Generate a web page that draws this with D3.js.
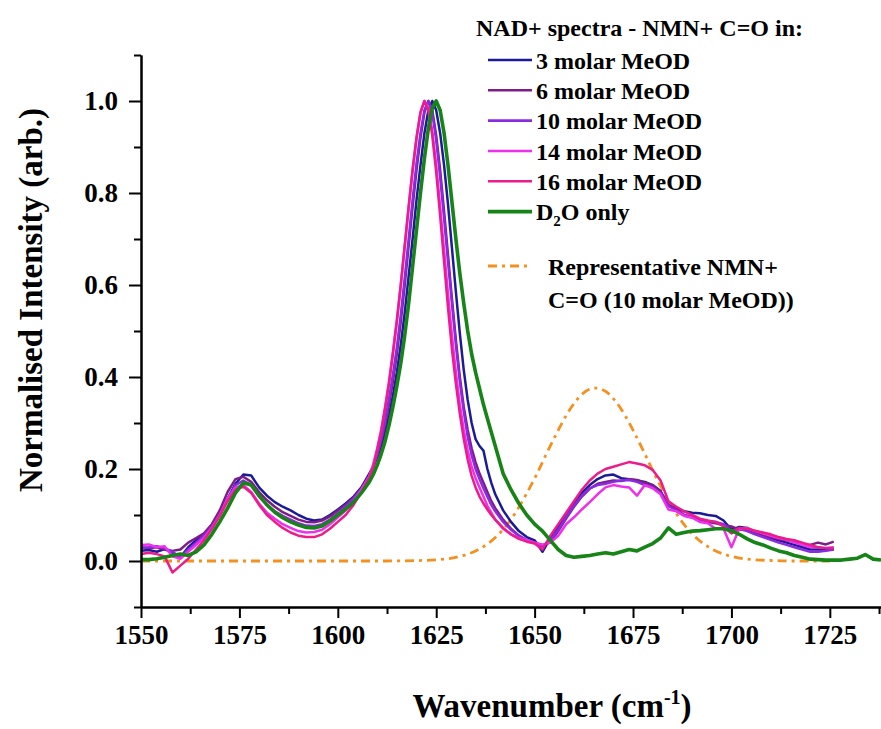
<!DOCTYPE html>
<html>
<head>
<meta charset="utf-8">
<script src="https://cdn.jsdelivr.net/npm/d3@7"></script>
<style>
  body { margin: 0; background: #fff; }
  svg { display: block; }
  svg text { font-family: "Liberation Serif", "Times New Roman", Times, "Nimbus Roman", "DejaVu Serif", "Noto Serif", serif !important; font-weight: bold; fill: #000; }
</style>
</head>
<body>
<svg id="chart" width="881" height="729"></svg>
<script>
// Wavenumber grid (cm-1) shared by the MeOD spectra
const wnMeOD = [
  1550,1552,1554,1556,1558,1560,1562,1564,1566,1568,
  1570,1572,1574,1576,1578,1580,1582,1584,1586,1588,
  1590,1592,1594,1596,1598,1600,1602,1604,1606,1608,
  1609,1610,1611,1612,1613,1614,1615,1616,1617,1618,
  1619,1620,1621,1622,1623,1624,1625,1626,1627,1628,
  1629,1630,1631,1632,1633,1634,1635,1636,1637,1638,
  1639,1640,
  1642,1644,1646,1648,1650,1652,1654,1656,1658,1660,
  1662,1664,1666,1668,1670,1672,1674,1676,1678,1680,
  1682,1684,1686,1688,1690,1692,1694,1696,1698,1700,
  1702,1704,1706,1708,1710,1712,1714,1716,1718,1720,
  1722,1724,1726
];

// Normalised intensities, one array per MeOD concentration
const meod3 = [
  0.022,0.024,0.020,0.026,0.018,0.008,0.030,0.045,0.058,0.075,
  0.100,0.135,0.168,0.188,0.186,0.160,0.142,0.128,0.118,0.110,
  0.100,0.092,0.088,0.090,0.100,0.112,0.125,0.140,0.160,0.190,
  0.205,0.225,0.250,0.280,0.315,0.360,0.410,0.470,0.540,0.620,
  0.700,0.785,0.860,0.930,0.980,1.000,0.980,0.930,0.860,0.775,
  0.680,0.585,0.495,0.415,0.350,0.300,0.265,0.250,0.240,0.200,
  0.170,0.145,
  0.110,0.085,0.065,0.052,0.045,0.020,0.050,0.075,0.100,0.125,
  0.148,0.165,0.178,0.186,0.188,0.180,0.178,0.175,0.172,0.165,
  0.152,0.120,0.115,0.108,0.105,0.104,0.100,0.098,0.088,0.068,
  0.074,0.072,0.062,0.055,0.050,0.045,0.040,0.035,0.030,0.025,
  0.025,0.024,0.025
];
const meod6 = [
  0.030,0.028,0.030,0.025,0.022,0.025,0.040,0.050,0.060,0.080,
  0.110,0.150,0.178,0.183,0.172,0.150,0.132,0.118,0.106,0.098,
  0.090,0.085,0.084,0.088,0.097,0.110,0.122,0.138,0.158,0.185,
  0.205,0.230,0.260,0.295,0.340,0.390,0.450,0.520,0.600,0.685,
  0.770,0.850,0.920,0.975,1.000,0.980,0.925,0.850,0.760,0.665,
  0.570,0.480,0.400,0.335,0.285,0.245,0.215,0.190,0.170,0.150,
  0.130,0.115,
  0.090,0.070,0.055,0.045,0.040,0.035,0.040,0.065,0.092,0.118,
  0.140,0.157,0.168,0.172,0.175,0.174,0.178,0.176,0.170,0.165,
  0.150,0.122,0.112,0.100,0.095,0.090,0.085,0.082,0.078,0.075,
  0.068,0.070,0.060,0.055,0.052,0.048,0.045,0.042,0.035,0.035,
  0.040,0.036,0.042
];
const meod10 = [
  0.028,0.030,0.032,0.028,0.020,0.008,0.025,0.040,0.055,0.075,
  0.100,0.135,0.165,0.175,0.165,0.140,0.122,0.108,0.098,0.090,
  0.082,0.077,0.076,0.080,0.090,0.104,0.118,0.135,0.156,0.183,
  0.205,0.232,0.265,0.305,0.352,0.405,0.465,0.535,0.615,0.700,
  0.785,0.865,0.930,0.980,1.000,0.975,0.915,0.835,0.745,0.650,
  0.560,0.470,0.390,0.325,0.270,0.230,0.200,0.178,0.158,0.140,
  0.122,0.108,
  0.085,0.068,0.055,0.045,0.040,0.032,0.045,0.068,0.095,0.120,
  0.142,0.158,0.165,0.168,0.172,0.175,0.176,0.172,0.165,0.160,
  0.148,0.120,0.110,0.100,0.095,0.090,0.087,0.085,0.080,0.065,
  0.070,0.065,0.058,0.052,0.046,0.040,0.035,0.030,0.025,0.020,
  0.020,0.022,0.025
];
const meod14 = [
  0.035,0.036,0.030,0.032,0.010,0.005,0.020,0.035,0.050,0.072,
  0.100,0.135,0.160,0.165,0.150,0.125,0.105,0.092,0.080,0.072,
  0.065,0.062,0.063,0.068,0.080,0.095,0.110,0.130,0.155,0.185,
  0.210,0.245,0.285,0.335,0.390,0.455,0.525,0.600,0.685,0.770,
  0.850,0.920,0.975,1.000,0.985,0.935,0.860,0.770,0.675,0.580,
  0.490,0.410,0.340,0.285,0.240,0.205,0.180,0.160,0.140,0.120,
  0.105,0.090,
  0.070,0.058,0.050,0.045,0.040,0.035,0.040,0.055,0.080,0.095,
  0.112,0.128,0.145,0.160,0.165,0.162,0.160,0.142,0.165,0.158,
  0.145,0.112,0.108,0.098,0.094,0.085,0.082,0.070,0.070,0.030,
  0.070,0.072,0.065,0.060,0.055,0.050,0.046,0.040,0.035,0.030,
  0.030,0.028,0.030
];
const meod16 = [
  0.015,0.018,0.015,0.010,-0.025,-0.010,0.005,0.025,0.045,0.070,
  0.098,0.130,0.155,0.162,0.148,0.122,0.100,0.085,0.072,0.062,
  0.055,0.052,0.052,0.058,0.070,0.085,0.100,0.122,0.150,0.182,
  0.205,0.240,0.280,0.330,0.385,0.450,0.520,0.600,0.685,0.770,
  0.850,0.920,0.975,1.000,0.980,0.925,0.845,0.750,0.650,0.550,
  0.460,0.385,0.320,0.265,0.220,0.185,0.160,0.140,0.125,0.112,
  0.100,0.090,
  0.072,0.058,0.048,0.042,0.038,0.025,0.055,0.080,0.105,0.130,
  0.155,0.175,0.190,0.200,0.205,0.210,0.215,0.212,0.208,0.198,
  0.175,0.130,0.118,0.108,0.100,0.092,0.088,0.085,0.075,0.060,
  0.072,0.070,0.066,0.062,0.058,0.052,0.048,0.045,0.040,0.035,
  0.030,0.028,0.028
];

// D2O-only spectrum
const wnD2O = [
  1550,1552,1554,1556,1558,1560,1562,1564,1566,1568,
  1570,1572,1574,1576,1578,1580,1582,1584,1586,1588,
  1590,1592,1594,1596,1598,1600,1602,1604,1606,1608,
  1609,1610,1611,1612,1613,1614,1615,1616,1617,1618,
  1619,1620,1621,1622,1623,1624,1625,1626,1627,1628,
  1629,1630,1631,1632,1633,1634,1635,1636,1637,1638,
  1639,1640,
  1642,1644,1646,1648,1650,1652,1654,1656,1658,1660,
  1662,1664,1666,1668,1670,1672,1674,1676,1678,1680,
  1682,1684,1686,1688,1690,1692,1694,1696,1698,1700,
  1702,1704,1706,1708,1710,1712,1714,1716,1718,1720,
  1722,1724,1726,1728,1730,1732,1734,1736,1738
];
const d2oOnly = [
  0.003,0.003,0.005,0.008,0.012,0.015,0.012,0.020,0.035,0.058,
  0.085,0.115,0.148,0.170,0.165,0.142,0.122,0.106,0.094,0.085,
  0.078,0.073,0.072,0.076,0.087,0.100,0.113,0.128,0.148,0.172,
  0.188,0.208,0.232,0.260,0.295,0.335,0.380,0.430,0.490,0.560,
  0.640,0.720,0.800,0.875,0.940,0.985,1.000,0.980,0.930,0.860,
  0.780,0.700,0.625,0.560,0.500,0.450,0.410,0.375,0.340,0.310,
  0.280,0.250,
  0.190,0.155,0.125,0.100,0.080,0.065,0.045,0.025,0.012,0.008,
  0.010,0.012,0.015,0.018,0.015,0.020,0.025,0.022,0.030,0.038,
  0.050,0.072,0.058,0.062,0.065,0.066,0.068,0.070,0.070,0.066,
  0.058,0.048,0.040,0.035,0.028,0.022,0.018,0.012,0.008,0.004,
  0.003,0.002,0.002,0.002,0.004,0.006,0.014,0.004,0.002
];

// Representative NMN+ C=O band (10 molar MeOD)
const wnFit = [
  1550,1570,1590,1610,1620.5,1625.5,1628,1630.5,1633,1635.5,
  1638,1640.5,1643,1645.5,1648,1650.5,1653,1655.5,1658,1660.5,
  1663,1665.5,1668,1670.5,1673,1675.5,1678,1680.5,1683,1685.5,
  1688,1690.5,1693,1695.5,1698,1700.5,1703,1705.5,1710.5,1715,
  1720,1725
];
const nmnFit = [
  0.000,0.000,0.000,0.000,0.001,0.003,0.005,0.009,0.015,0.024,
  0.037,0.055,0.079,0.110,0.147,0.188,0.233,0.276,0.316,0.348,
  0.369,0.376,0.369,0.348,0.316,0.276,0.233,0.188,0.147,0.110,
  0.079,0.055,0.037,0.024,0.015,0.009,0.005,0.003,0.001,0.000,
  0.000,0.000
];

// Axis ticks
const xMajorTicks = [1550,1575,1600,1625,1650,1675,1700,1725];
const xMinorTicks = [1562.5,1587.5,1612.5,1637.5,1662.5,1687.5,1712.5,1737.5];
const yMajorTicks = [0.0,0.2,0.4,0.6,0.8,1.0];
const yMinorTicks = [-0.1,0.1,0.3,0.5,0.7,0.9,1.1];

// Legend text
const legendTitle = "NAD+ spectra - NMN+ C=O in:";
const seriesNames = ["3 molar MeOD","6 molar MeOD","10 molar MeOD","14 molar MeOD","16 molar MeOD"];
const seriesColors = ["#1b1b98","#7d1d88","#8a2be2","#ee30ee","#ec1c8a"];
const d2oColor = "#168416";
const fitColor = "#f5901e";
const fitLabel = ["Representative NMN+","C=O (10 molar MeOD))"];

const FONT = '"Liberation Serif", "Times New Roman", Times, "Nimbus Roman", "DejaVu Serif", "Noto Serif", serif';

const svg = d3.select("#chart");
const plotLeft = 141, plotRight = 881, plotTop = 55, plotBottom = 607;

const x = d3.scaleLinear().domain([1550, 1738]).range([plotLeft, plotRight]);
const y = d3.scaleLinear().domain([-0.1, 1.1]).range([plotBottom, plotTop]);

svg.append("defs").append("clipPath").attr("id", "plotClip")
  .append("rect").attr("x", plotLeft).attr("y", plotTop - 5)
  .attr("width", plotRight - plotLeft).attr("height", plotBottom - plotTop + 5);

const line = d3.line().x(d => x(d[0])).y(d => y(d[1]));
const smoothLine = d3.line().x(d => x(d[0])).y(d => y(d[1])).curve(d3.curveMonotoneX);

const plot = svg.append("g").attr("clip-path", "url(#plotClip)");

// Representative band (dash-dot)
plot.append("path")
  .datum(wnFit.map((w, i) => [w, nmnFit[i]]))
  .attr("d", smoothLine)
  .attr("fill", "none")
  .attr("stroke", fitColor)
  .attr("stroke-width", 2.8)
  .attr("stroke-dasharray", "9,5,3,5");

// MeOD spectra
const meodSeries = [meod3, meod6, meod10, meod14, meod16];
meodSeries.forEach((vals, k) => {
  plot.append("path")
    .datum(wnMeOD.map((w, i) => [w, vals[i]]))
    .attr("d", line)
    .attr("fill", "none")
    .attr("stroke", seriesColors[k])
    .attr("stroke-width", 2.5)
    .attr("stroke-linejoin", "round");
});

// D2O only
plot.append("path")
  .datum(wnD2O.map((w, i) => [w, d2oOnly[i]]))
  .attr("d", line)
  .attr("fill", "none")
  .attr("stroke", d2oColor)
  .attr("stroke-width", 3.6)
  .attr("stroke-linejoin", "round");

// Axes
function styleAxis(g) {
  g.attr("font-family", FONT).attr("font-size", 27).attr("font-weight", "bold");
  g.selectAll("path.domain").attr("stroke", "#000").attr("stroke-width", 2);
  g.selectAll(".tick line").attr("stroke", "#000").attr("stroke-width", 2);
  g.selectAll("text").attr("font-family", FONT).attr("fill", "#000").style("font-size", "27px");
}

const yAxisMajor = svg.append("g").attr("transform", `translate(${plotLeft},0)`)
  .call(d3.axisLeft(y).tickValues(yMajorTicks).tickSize(12).tickSizeOuter(0)
    .tickPadding(11).tickFormat(d3.format(".1f")));
styleAxis(yAxisMajor);
const yAxisMinor = svg.append("g").attr("transform", `translate(${plotLeft},0)`)
  .call(d3.axisLeft(y).tickValues(yMinorTicks).tickSize(7).tickSizeOuter(0).tickFormat(""));
styleAxis(yAxisMinor);

const xAxisMajor = svg.append("g").attr("transform", `translate(0,${plotBottom})`)
  .call(d3.axisBottom(x).tickValues(xMajorTicks).tickSize(11).tickSizeOuter(0)
    .tickPadding(7).tickFormat(d3.format("d")));
styleAxis(xAxisMajor);
const xAxisMinor = svg.append("g").attr("transform", `translate(0,${plotBottom})`)
  .call(d3.axisBottom(x).tickValues(xMinorTicks).tickSize(7).tickSizeOuter(0).tickFormat(""));
styleAxis(xAxisMinor);

// Axis titles
svg.append("text")
  .attr("font-family", FONT)
  .attr("transform", `translate(42,${(plotTop + plotBottom) / 2 - 31}) rotate(-90)`)
  .attr("text-anchor", "middle")
  .style("font-size", "33px")
  .text("Normalised Intensity (arb.)");

const xt = svg.append("text")
  .attr("font-family", FONT)
  .attr("x", 552).attr("y", 717)
  .attr("text-anchor", "middle")
  .style("font-size", "33px");
xt.append("tspan").text("Wavenumber (cm");
xt.append("tspan").attr("dy", -13).style("font-size", "20px").text("-1");
xt.append("tspan").attr("dy", 13).text(")");

// Legend
const lg = svg.append("g").attr("font-family", FONT);
lg.append("text").attr("x", 476).attr("y", 36).style("font-size", "24px").text(legendTitle);

const rowY = [60, 90.3, 120.6, 151, 181.3, 211.6];
seriesNames.forEach((name, k) => {
  lg.append("line").attr("x1", 488).attr("x2", 532)
    .attr("y1", rowY[k]).attr("y2", rowY[k])
    .attr("stroke", seriesColors[k]).attr("stroke-width", 2.6);
  lg.append("text").attr("x", 536).attr("y", rowY[k] + 8.5)
    .style("font-size", "24px").text(name);
});
lg.append("line").attr("x1", 488).attr("x2", 532)
  .attr("y1", rowY[5]).attr("y2", rowY[5])
  .attr("stroke", d2oColor).attr("stroke-width", 3.6);
const d2oText = lg.append("text").attr("x", 536).attr("y", rowY[5] + 8.5).style("font-size", "24px");
d2oText.append("tspan").text("D");
d2oText.append("tspan").attr("dy", 6).style("font-size", "15px").text("2");
d2oText.append("tspan").attr("dy", -6).text("O only");

lg.append("line").attr("x1", 488).attr("x2", 530)
  .attr("y1", 266).attr("y2", 266)
  .attr("stroke", fitColor).attr("stroke-width", 2.8)
  .attr("stroke-dasharray", "9,5,3,5");
lg.append("text").attr("x", 548).attr("y", 274.5).style("font-size", "24px").text(fitLabel[0]);
lg.append("text").attr("x", 548).attr("y", 308).style("font-size", "24px").text(fitLabel[1]);
</script>
</body>
</html>
